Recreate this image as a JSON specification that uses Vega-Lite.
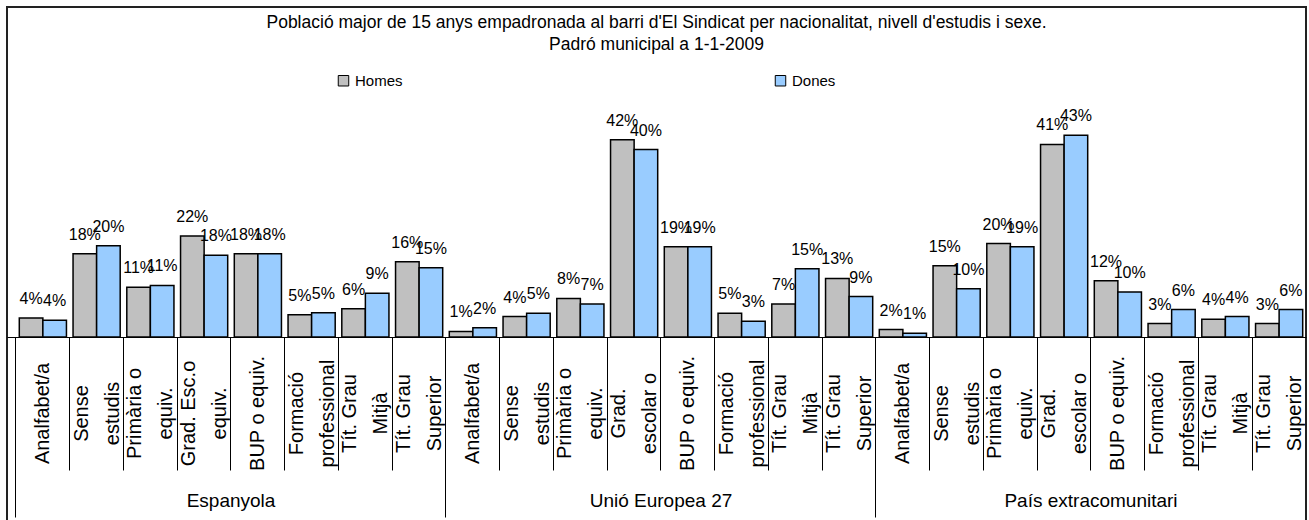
{
  "$schema": "https://vega.github.io/schema/vega-lite/v6.json",
  "autosize": {"type": "none"},
  "padding": {"left": 7, "top": 7, "right": 3, "bottom": 0},
  "width": 1299,
  "height": 520,
  "title": {
    "text": ["Població major de 15 anys empadronada al barri d'El Sindicat per nacionalitat, nivell d'estudis i sexe.", "Padró municipal a 1-1-2009"],
    "anchor": "middle",
    "baseline": "top",
    "offset": -46,
    "fontSize": 17.5,
    "fontWeight": "normal",
    "font": "Liberation Sans",
    "color": "#000",
    "lineHeight": 22
  },
  "data": {
    "values": [
      {"clau": "Espanyola|Analfabet/a", "sexe": "Homes", "pct": 0.041},
      {"clau": "Espanyola|Analfabet/a", "sexe": "Dones", "pct": 0.036},
      {"clau": "Espanyola|Sense|estudis", "sexe": "Homes", "pct": 0.179},
      {"clau": "Espanyola|Sense|estudis", "sexe": "Dones", "pct": 0.196},
      {"clau": "Espanyola|Primària o|equiv.", "sexe": "Homes", "pct": 0.107},
      {"clau": "Espanyola|Primària o|equiv.", "sexe": "Dones", "pct": 0.111},
      {"clau": "Espanyola|Grad. Esc.o|equiv.", "sexe": "Homes", "pct": 0.217},
      {"clau": "Espanyola|Grad. Esc.o|equiv.", "sexe": "Dones", "pct": 0.176},
      {"clau": "Espanyola|BUP o equiv.", "sexe": "Homes", "pct": 0.179},
      {"clau": "Espanyola|BUP o equiv.", "sexe": "Dones", "pct": 0.179},
      {"clau": "Espanyola|Formació|professional", "sexe": "Homes", "pct": 0.048},
      {"clau": "Espanyola|Formació|professional", "sexe": "Dones", "pct": 0.052},
      {"clau": "Espanyola|Tít. Grau|Mitjà", "sexe": "Homes", "pct": 0.061},
      {"clau": "Espanyola|Tít. Grau|Mitjà", "sexe": "Dones", "pct": 0.094},
      {"clau": "Espanyola|Tít. Grau|Superior", "sexe": "Homes", "pct": 0.162},
      {"clau": "Espanyola|Tít. Grau|Superior", "sexe": "Dones", "pct": 0.149},
      {"clau": "Unió Europea 27|Analfabet/a", "sexe": "Homes", "pct": 0.012},
      {"clau": "Unió Europea 27|Analfabet/a", "sexe": "Dones", "pct": 0.020},
      {"clau": "Unió Europea 27|Sense|estudis", "sexe": "Homes", "pct": 0.044},
      {"clau": "Unió Europea 27|Sense|estudis", "sexe": "Dones", "pct": 0.051},
      {"clau": "Unió Europea 27|Primària o|equiv.", "sexe": "Homes", "pct": 0.083},
      {"clau": "Unió Europea 27|Primària o|equiv.", "sexe": "Dones", "pct": 0.071},
      {"clau": "Unió Europea 27|Grad.|escolar o", "sexe": "Homes", "pct": 0.424},
      {"clau": "Unió Europea 27|Grad.|escolar o", "sexe": "Dones", "pct": 0.403},
      {"clau": "Unió Europea 27|BUP o equiv.", "sexe": "Homes", "pct": 0.194},
      {"clau": "Unió Europea 27|BUP o equiv.", "sexe": "Dones", "pct": 0.194},
      {"clau": "Unió Europea 27|Formació|professional", "sexe": "Homes", "pct": 0.051},
      {"clau": "Unió Europea 27|Formació|professional", "sexe": "Dones", "pct": 0.034},
      {"clau": "Unió Europea 27|Tít. Grau|Mitjà", "sexe": "Homes", "pct": 0.071},
      {"clau": "Unió Europea 27|Tít. Grau|Mitjà", "sexe": "Dones", "pct": 0.147},
      {"clau": "Unió Europea 27|Tít. Grau|Superior", "sexe": "Homes", "pct": 0.126},
      {"clau": "Unió Europea 27|Tít. Grau|Superior", "sexe": "Dones", "pct": 0.087},
      {"clau": "País extracomunitari|Analfabet/a", "sexe": "Homes", "pct": 0.016},
      {"clau": "País extracomunitari|Analfabet/a", "sexe": "Dones", "pct": 0.008},
      {"clau": "País extracomunitari|Sense|estudis", "sexe": "Homes", "pct": 0.153},
      {"clau": "País extracomunitari|Sense|estudis", "sexe": "Dones", "pct": 0.104},
      {"clau": "País extracomunitari|Primària o|equiv.", "sexe": "Homes", "pct": 0.201},
      {"clau": "País extracomunitari|Primària o|equiv.", "sexe": "Dones", "pct": 0.194},
      {"clau": "País extracomunitari|Grad.|escolar o", "sexe": "Homes", "pct": 0.414},
      {"clau": "País extracomunitari|Grad.|escolar o", "sexe": "Dones", "pct": 0.434},
      {"clau": "País extracomunitari|BUP o equiv.", "sexe": "Homes", "pct": 0.121},
      {"clau": "País extracomunitari|BUP o equiv.", "sexe": "Dones", "pct": 0.097},
      {"clau": "País extracomunitari|Formació|professional", "sexe": "Homes", "pct": 0.029},
      {"clau": "País extracomunitari|Formació|professional", "sexe": "Dones", "pct": 0.059},
      {"clau": "País extracomunitari|Tít. Grau|Mitjà", "sexe": "Homes", "pct": 0.038},
      {"clau": "País extracomunitari|Tít. Grau|Mitjà", "sexe": "Dones", "pct": 0.044},
      {"clau": "País extracomunitari|Tít. Grau|Superior", "sexe": "Homes", "pct": 0.029},
      {"clau": "País extracomunitari|Tít. Grau|Superior", "sexe": "Dones", "pct": 0.059}
    ]
  },
  "layer": [
    {
      "mark": {"type": "bar", "stroke": "#000", "strokeWidth": 1.5},
      "encoding": {
        "x": {
          "field": "clau", "type": "nominal", "sort": null,
          "scale": {"paddingInner": 0, "paddingOuter": 0.08372, "align": 1},
          "axis": {
            "title": null,
            "orient": "bottom",
            "offset": -190,
            "ticks": false,
            "tickSize": 0,
            "domain": true,
            "domainColor": "#000",
            "domainWidth": 1,
            "labelExpr": "slice(split(datum.label, '|'), 1)",
            "labelAngle": 270,
            "labelAlign": "center",
            "labelBaseline": "middle",
            "labelPadding": 76,
            "labelLineHeight": 31,
            "labelOffset": {"condition": {"test": "length(split(datum.value, '|')) > 2", "value": -15}, "value": 0},
            "labelFontSize": 20,
            "labelFont": "Liberation Sans",
            "labelColor": "#000",
            "labelLimit": 400,
            "labelOverlap": false
          }
        },
        "xOffset": {"field": "sexe", "type": "nominal", "sort": ["Homes", "Dones"], "scale": {"paddingInner": 0, "paddingOuter": 0.14}},
        "y": {"field": "pct", "type": "quantitative", "scale": {"domain": [-0.4086, 0.7097], "nice": false, "zero": false}, "axis": null},
        "fill": {
          "field": "sexe", "type": "nominal", "sort": ["Homes", "Dones"],
          "scale": {"domain": ["Homes", "Dones"], "range": ["#C0C0C0", "#99CCFF"]},
          "legend": {
            "title": null,
            "orient": "none",
            "legendX": 329,
            "legendY": 66,
            "direction": "horizontal",
            "columns": 2,
            "columnPadding": 370,
            "symbolType": "square",
            "symbolSize": 110,
            "symbolStrokeColor": "#000",
            "symbolStrokeWidth": 1,
            "labelFontSize": 15,
            "labelFont": "Liberation Sans",
            "labelColor": "#000"
          }
        }
      }
    },
    {
      "mark": {"type": "text", "baseline": "middle", "dy": -19, "fontSize": 16, "font": "Liberation Sans", "color": "#000"},
      "encoding": {
        "x": {
          "field": "clau", "type": "nominal", "sort": null,
          "scale": {"paddingInner": 0, "paddingOuter": 0.08372, "align": 1},
          "axis": {
            "title": null,
            "orient": "bottom",
            "offset": -190,
            "bandPosition": 0,
            "domain": false,
            "ticks": true,
            "tickColor": "#000",
            "tickWidth": 1,
            "tickSize": {"condition": {"test": "indexof(datum.value, 'Analfabet') >= 0", "value": 180}, "value": 133},
            "labelExpr": "indexof(datum.label, 'BUP') >= 0 ? split(datum.label, '|')[0] : ''",
            "labelAngle": 0,
            "labelAlign": "center",
            "labelBaseline": "middle",
            "labelPadding": 30,
            "labelOffset": -26.875,
            "labelFontSize": 19,
            "labelFont": "Liberation Sans",
            "labelColor": "#000",
            "labelOverlap": false,
            "labelLimit": 400
          }
        },
        "xOffset": {"field": "sexe", "type": "nominal", "sort": ["Homes", "Dones"], "scale": {"paddingInner": 0, "paddingOuter": 0.14}},
        "y": {"field": "pct", "type": "quantitative"},
        "text": {"field": "pct", "type": "quantitative", "format": ".0%"}
      }
    }
  ],
  "resolve": {"axis": {"x": "independent"}},
  "config": {
    "font": "Liberation Sans",
    "view": {"stroke": "#222", "strokeWidth": 2}
  }
}
